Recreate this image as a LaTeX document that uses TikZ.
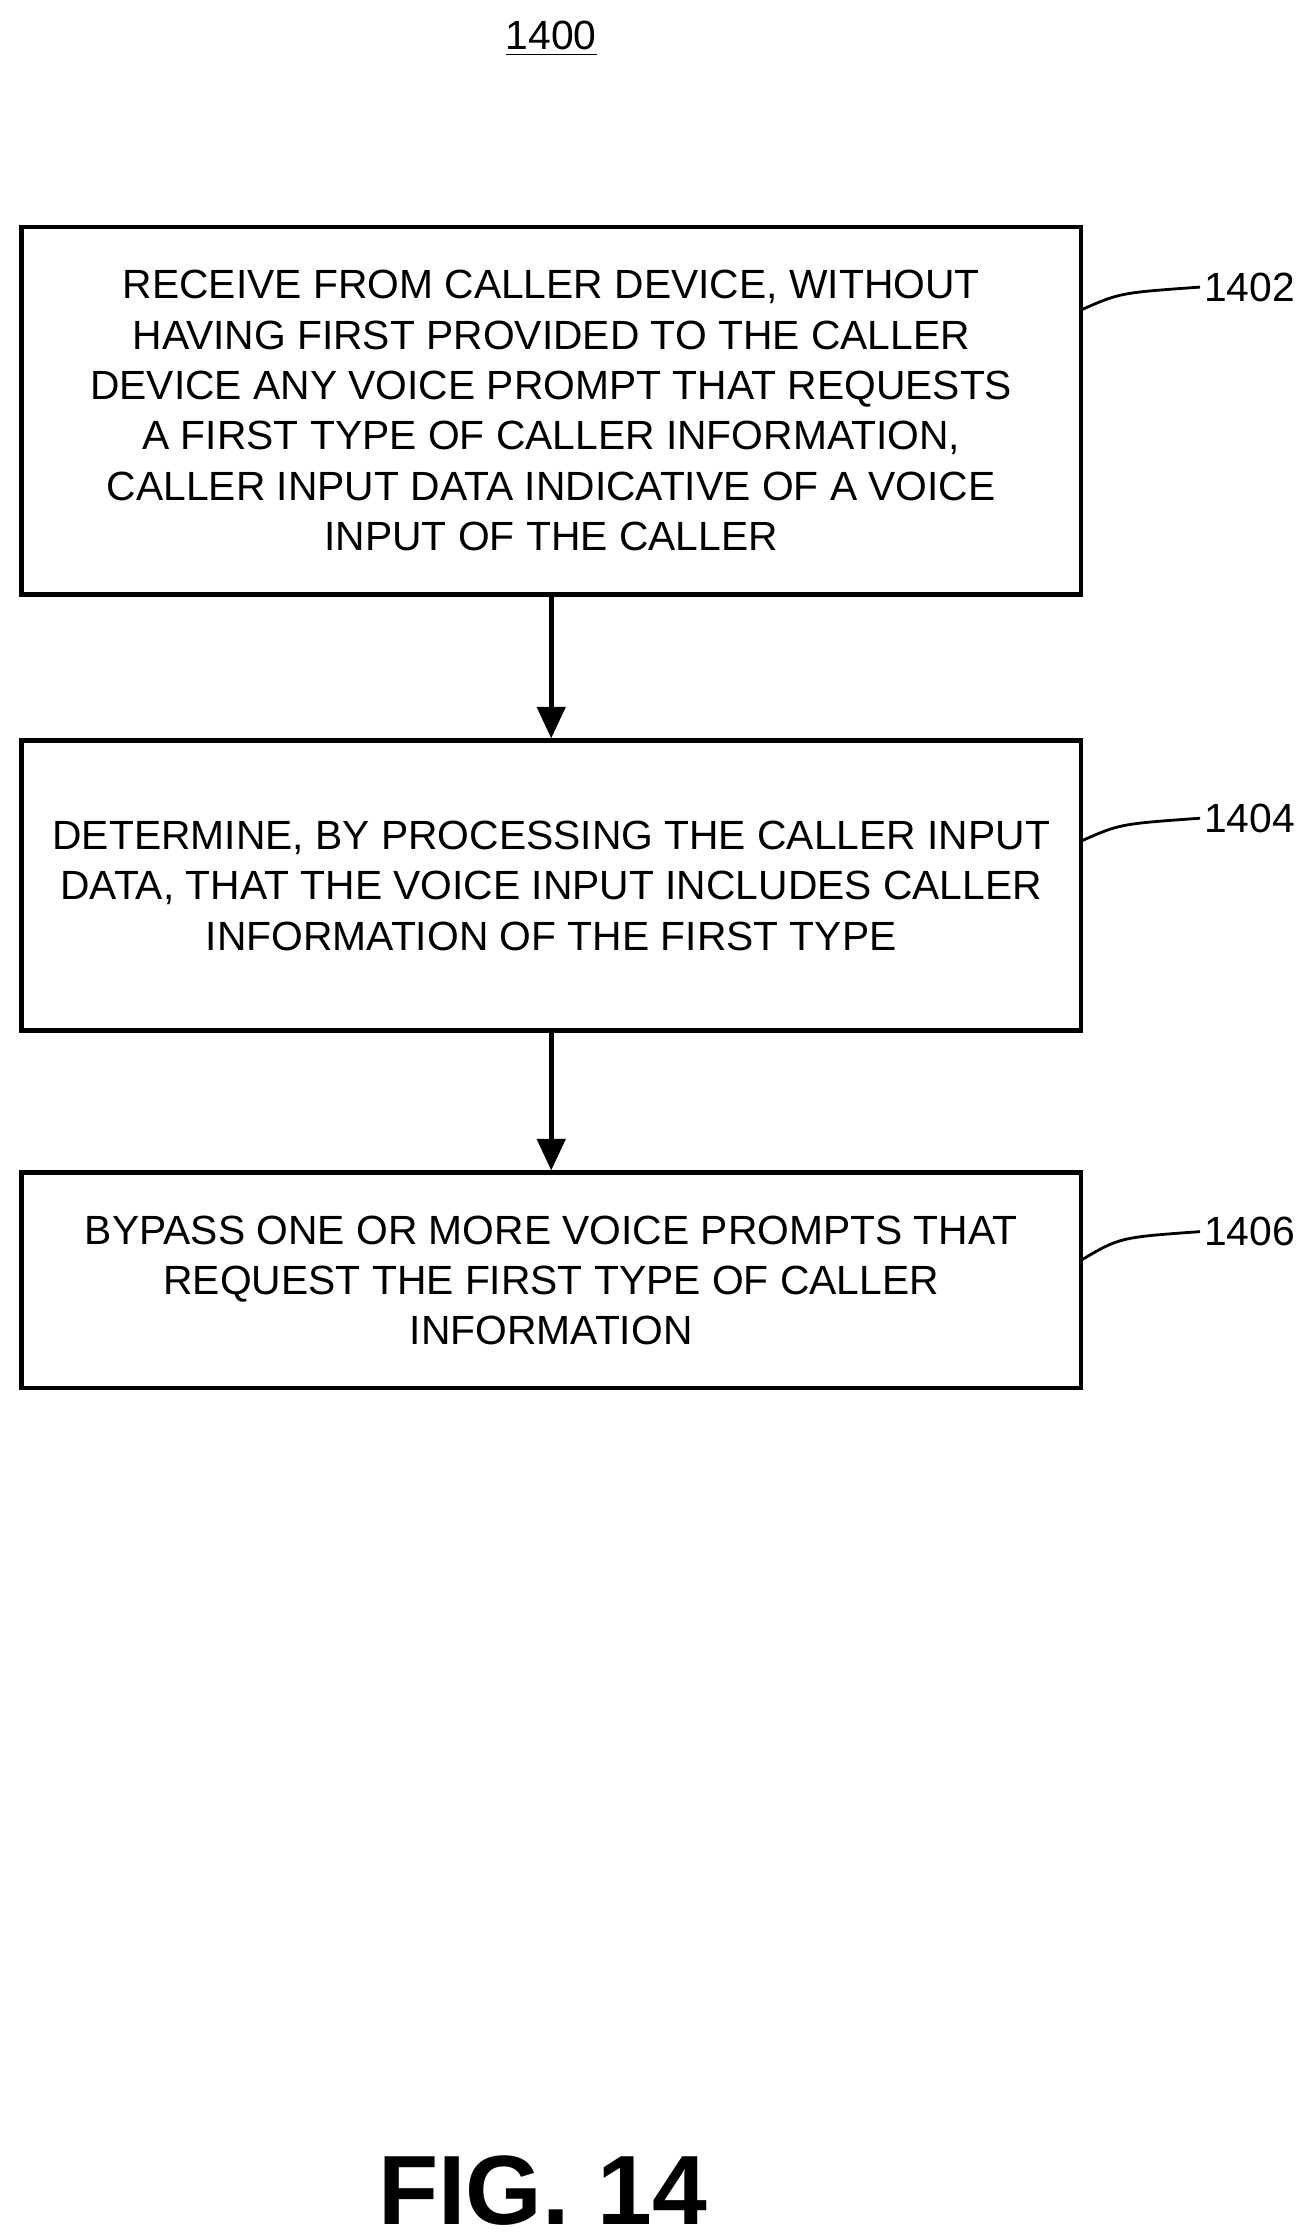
\documentclass[tikz,border=0pt]{standalone}
\usepackage{fontspec}
\setmainfont{Liberation Sans}
\usetikzlibrary{arrows.meta,positioning}

\begin{document}
\begin{tikzpicture}[
  x=0.01435cm, y=-0.01435cm,
  font=\fontsize{11.6}{14.3}\selectfont,
  >={Triangle[length=9pt,width=8pt]},
  block/.style={draw, line width=1.3pt, align=center, minimum width=738*0.01435cm, inner sep=0pt},
  line/.style={->, line width=1.3pt},
  lead/.style={line width=0.8pt},
  refno/.style={anchor=west, inner sep=1pt}
]
\useasboundingbox (0,0) rectangle (910,1557);

\node (title) at (384,27) {\underline{1400}};

% steps
\node[block, minimum height=256*0.01435cm] (receive) at (384,286) {RECEIVE FROM CALLER DEVICE, WITHOUT\\HAVING FIRST PROVIDED TO THE CALLER\\DEVICE ANY VOICE PROMPT THAT REQUESTS\\A FIRST TYPE OF CALLER INFORMATION,\\CALLER INPUT DATA INDICATIVE OF A VOICE\\INPUT OF THE CALLER};
\node[block, minimum height=202*0.01435cm] (determine) at (384,617) {DETERMINE, BY PROCESSING THE CALLER INPUT\\DATA, THAT THE VOICE INPUT INCLUDES CALLER\\INFORMATION OF THE FIRST TYPE};
\node[block, minimum height=150*0.01435cm] (bypass) at (384,892) {BYPASS ONE OR MORE VOICE PROMPTS THAT\\REQUEST THE FIRST TYPE OF CALLER\\INFORMATION};

\draw[line] (receive) -- (determine);
\draw[line] (determine) -- (bypass);

% reference numbers
\node[refno] (r1402) at (836,200) {1402};
\node[refno] (r1404) at (836,570) {1404};
\node[refno] (r1406) at (836,858) {1406};
\coordinate (a1) at (753,216);
\coordinate (a2) at (753,586);
\coordinate (a3) at (753,878);
\draw[lead] (a1) .. controls (780,204) .. (r1402.west);
\draw[lead] (a2) .. controls (780,574) .. (r1404.west);
\draw[lead] (a3) .. controls (780,862) .. (r1406.west);

\node[font=\fontsize{28}{34}\selectfont\bfseries] (fig) at (378,1526) {FIG. 14};
\end{tikzpicture}
\end{document}
